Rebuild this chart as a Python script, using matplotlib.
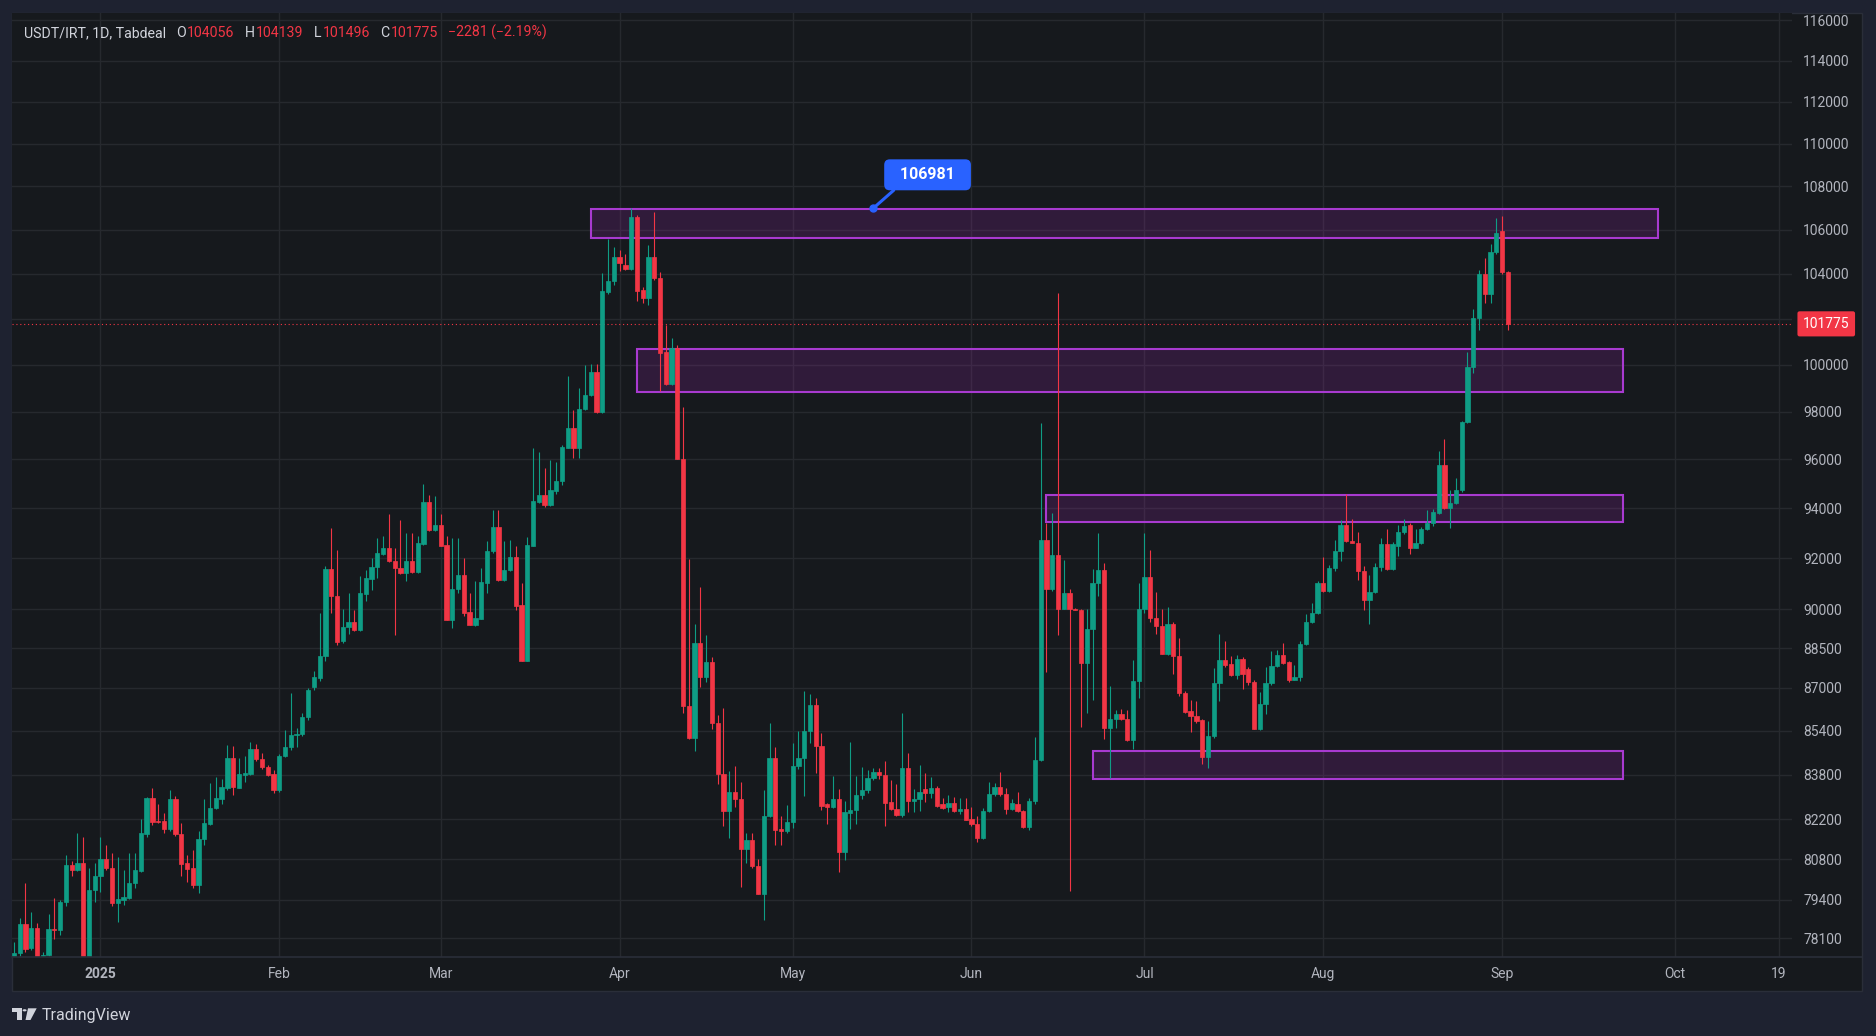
import numpy as np
import pandas as pd
import matplotlib
matplotlib.use('Agg')
import matplotlib.pyplot as plt
import matplotlib.dates as mdates
from matplotlib.patches import Rectangle, Polygon, Circle
from matplotlib.lines import Line2D
from matplotlib.ticker import NullLocator, NullFormatter
from matplotlib.transforms import blended_transform_factory

plt.rcParams['font.family'] = ['Roboto', 'DejaVu Sans']

# daily candles, first bar 2024-12-17, last bar 2025-09-02
first_day = '2024-12-17'
opens = [
    77480, 77590, 78570, 77750, 78430, 77480, 77530, 78410, 78370, 79330,
    80600, 80420, 80660, 77300, 79740, 80200, 80800, 80500, 79290, 79400,
    79470, 79980, 80400, 81680, 82950, 82150, 82150, 81850, 82920, 81690,
    80660, 80490, 79890, 81500, 82050, 82590, 82940, 83300, 84400, 83330,
    83800, 83810, 84740, 84360, 84060, 83810, 83250, 84490, 84800, 85230,
    85270, 85890, 87040, 87360, 88180, 91580, 90520, 88760, 89300, 89500,
    89200, 90600, 91190, 91630, 92160, 92400, 91900, 91610, 91410, 91900,
    91430, 92570, 94270, 93130, 93330, 92530, 89590, 90800, 91350, 89870,
    89400, 89630, 91020, 92270, 93230, 91120, 91540, 92030, 90140, 87990,
    92500, 94270, 94540, 94110, 94710, 95090, 96490, 97300, 96460, 98100,
    98680, 99680, 98000, 103200, 103660, 104770, 104400, 104200, 106570, 103250,
    102900, 104770, 103790, 100550, 99150, 100720, 96030, 86330, 85130, 88690,
    87400, 87980, 85680, 83810, 82480, 83190, 82940, 81170, 81460, 80560,
    79600, 82320, 84420, 81850, 81800, 82110, 84110, 84420, 85390, 86370,
    84830, 82740, 82640, 82940, 81050, 82420, 82520, 83070, 83240, 83660,
    83910, 83780, 82820, 82560, 82360, 84050, 82850, 82940, 83270, 83150,
    83330, 82750, 82640, 82790, 82500, 82560, 82210, 82020, 81530, 82500,
    83100, 83370, 83100, 82560, 82750, 82500, 81940, 82850, 84340, 92710,
    90800, 92120, 90020, 90640, 90020, 89980, 87930, 89220, 91000, 91530,
    85490, 85820, 86010, 85850, 85050, 87250, 90020, 91240, 89670, 89330,
    88290, 89440, 88200, 86810, 86130, 85940, 85800, 84440, 85200, 87160,
    88050, 87900, 87480, 88080, 87720, 87200, 85480, 86390, 87160, 87800,
    88250, 87960, 87300, 87400, 88650, 89490, 89840, 91010, 90710, 91600,
    92290, 93340, 92690, 92610, 91500, 90360, 90650, 91640, 92550, 91560,
    92480, 93030, 93340, 92400, 92590, 93180, 93400, 93810, 95760, 93990,
    94220, 94730, 97570, 99880, 102050, 103990, 103080, 104960, 105950, 104056,
]
highs = [
    77980, 78780, 79970, 78990, 78600, 77640, 78910, 79450, 79400, 80950,
    80740, 81710, 81560, 80510, 80660, 81580, 81300, 81000, 80890, 80440,
    81000, 81000, 82210, 83000, 83310, 82740, 82420, 83230, 83020, 82070,
    80950, 81120, 81790, 82920, 83500, 83700, 83650, 84890, 84830, 84420,
    84460, 85000, 84900, 84580, 84160, 83950, 84530, 85440, 86790, 85500,
    86050, 87000, 87630, 89840, 91670, 93200, 92330, 90010, 90630, 89980,
    91280, 91540, 92000, 92800, 92870, 93770, 92400, 93530, 93000, 93000,
    92870, 94980, 94540, 94500, 93760, 92870, 92800, 92800, 92000, 90630,
    91080, 91600, 92670, 93930, 93930, 92690, 92730, 92470, 91020, 92830,
    96460, 96320, 95630, 95970, 95900, 96600, 99510, 98070, 98990, 99970,
    100010, 100010, 104040, 105550, 105190, 105090, 104900, 106981, 106680, 103400,
    105300, 106790, 104080, 101720, 101170, 100870, 98190, 91970, 89410, 90870,
    88990, 88160, 86000, 86250, 83940, 84110, 83530, 81710, 81710, 80800,
    83240, 85680, 84800, 82320, 82700, 84960, 85390, 86880, 86780, 86600,
    85300, 82770, 83740, 83270, 82860, 84990, 83740, 84080, 83980, 84030,
    84030, 84280, 83610, 83470, 86050, 84590, 83270, 84130, 83850, 83730,
    83380, 82970, 83050, 83000, 82970, 82970, 82640, 82310, 82600, 83540,
    83510, 83910, 83320, 82940, 83190, 82530, 82970, 85160, 97530, 93400,
    93820, 103140, 91910, 90770, 90050, 90000, 90020, 91570, 93000, 91800,
    87080, 86160, 86210, 86180, 88040, 91000, 93000, 92330, 90670, 90020,
    90070, 89500, 88900, 86880, 86550, 86490, 85830, 85760, 87730, 89050,
    88760, 88200, 88220, 88150, 87780, 87300, 86840, 87780, 88400, 88440,
    88680, 88000, 87870, 88760, 89800, 90240, 91100, 92050, 91720, 92700,
    93520, 94580, 93580, 93030, 91700, 91340, 91790, 92780, 93150, 92630,
    93340, 93550, 93400, 93150, 93240, 93920, 93970, 96340, 96860, 94760,
    95220, 97600, 100530, 102410, 104160, 104720, 105350, 106520, 106610, 104139,
]
lows = [
    77450, 77480, 77640, 77700, 77380, 77450, 77480, 78070, 78200, 79200,
    80200, 80380, 77200, 77200, 79330, 79680, 80430, 79200, 78650, 79220,
    79420, 79800, 80340, 81560, 82000, 82080, 81700, 81800, 81600, 80210,
    80000, 79800, 79630, 81280, 82010, 82550, 82740, 83250, 83060, 83300,
    83550, 83800, 84300, 84000, 83750, 83130, 83190, 84430, 84700, 84800,
    85200, 85800, 86920, 87250, 87990, 89850, 88600, 88690, 89040, 89170,
    89170, 90300, 90760, 91220, 92130, 91840, 89010, 91370, 91080, 91400,
    91400, 92530, 93090, 93090, 92470, 89590, 89270, 90630, 89720, 89380,
    89330, 89600, 90630, 92200, 91100, 91080, 91500, 89970, 87990, 87990,
    92470, 94200, 94030, 94070, 94570, 94950, 96460, 96040, 96040, 98070,
    98640, 97950, 97950, 103100, 103500, 104140, 104150, 104150, 102800, 102700,
    102600, 103700, 98870, 99110, 99110, 96000, 86070, 85100, 84660, 87020,
    87200, 85470, 83470, 81980, 81540, 82640, 79840, 80660, 80480, 79600,
    78720, 82280, 81290, 81290, 81700, 81900, 84020, 83020, 84960, 83860,
    82530, 82030, 82600, 80370, 80770, 81860, 82030, 82940, 83140, 83600,
    83650, 81970, 82530, 82320, 82300, 82450, 82450, 82490, 82820, 82970,
    82650, 82560, 82450, 82450, 82380, 82170, 81980, 81410, 81500, 82450,
    83020, 83020, 82380, 82530, 82450, 81900, 81830, 82750, 84300, 87600,
    90700, 88980, 89990, 79700, 89950, 85530, 86050, 86540, 90510, 85100,
    83670, 85490, 85780, 85020, 84740, 86610, 89830, 89510, 89050, 88260,
    88220, 87500, 86680, 86040, 85340, 85690, 84170, 84030, 85140, 86520,
    87790, 87430, 87330, 86960, 87090, 85480, 85440, 86030, 87090, 87770,
    87900, 87230, 87300, 87250, 88600, 89450, 89800, 90680, 90680, 91500,
    91900, 92650, 92580, 91130, 89980, 89440, 90610, 91490, 91530, 91530,
    92070, 92960, 92150, 92400, 92550, 93140, 93290, 93780, 93960, 93210,
    94180, 94650, 97530, 99650, 101500, 102680, 102710, 104900, 103990, 101496,
]
closes = [
    77590, 78570, 77730, 78430, 77460, 77540, 78400, 78370, 79330, 80600,
    80430, 80660, 77300, 79740, 80200, 80800, 80490, 79290, 79410, 79500,
    79980, 80420, 81700, 82950, 82120, 82110, 81850, 82920, 81670, 80640,
    80470, 79890, 81520, 82060, 82600, 82950, 83350, 84400, 83350, 83810,
    83850, 84740, 84360, 84060, 83790, 83250, 84490, 84800, 85240, 85280,
    85890, 86920, 87420, 88180, 91580, 90500, 88730, 89310, 89500, 89200,
    90630, 91220, 91660, 92200, 92400, 91870, 91610, 91410, 91900, 91430,
    92600, 94270, 93130, 93330, 92500, 89590, 90800, 91350, 89850, 89400,
    89650, 91040, 92290, 93230, 91120, 91540, 92030, 90100, 87990, 92530,
    94300, 94540, 94110, 94750, 95120, 96530, 97300, 96460, 98110, 98700,
    99680, 98000, 103210, 103660, 104770, 104460, 104200, 106570, 103210, 102900,
    104770, 103790, 100510, 99150, 100720, 96030, 86330, 85130, 88690, 87400,
    87980, 85680, 83810, 82480, 83190, 82910, 81170, 81460, 80560, 79600,
    82320, 84420, 81820, 81800, 82110, 84110, 84420, 85390, 86370, 84830,
    82690, 82640, 82940, 81050, 82450, 82520, 83070, 83240, 83660, 83910,
    83780, 82790, 82560, 82360, 84050, 82850, 82940, 83190, 83150, 83330,
    82680, 82600, 82790, 82500, 82560, 82170, 82020, 81530, 82500, 83100,
    83370, 83100, 82560, 82790, 82500, 81940, 82850, 84340, 92710, 90800,
    92120, 90020, 90640, 90020, 89980, 87930, 89220, 91000, 91530, 85490,
    85820, 86010, 85820, 85050, 87250, 90020, 91240, 89670, 89330, 88290,
    89440, 88200, 86810, 86110, 85940, 85760, 84440, 85200, 87160, 88050,
    87860, 87480, 88080, 87530, 87200, 85480, 86390, 87160, 87800, 88250,
    87940, 87300, 87400, 88650, 89490, 89840, 91010, 90710, 91600, 92290,
    93340, 92690, 92610, 91490, 90360, 90650, 91640, 92550, 91560, 92550,
    93030, 93290, 92400, 92590, 93180, 93400, 93840, 95760, 93990, 94220,
    94730, 97570, 99880, 102050, 103990, 103080, 104960, 105830, 104056, 101775,
]

# purple zones drawn on the chart
zone_start = ['2025-03-27', '2025-04-04', '2025-06-14', '2025-06-22']
zone_end = ['2025-09-28', '2025-09-22', '2025-09-22', '2025-09-22']
zone_low = [105615, 98813, 93460, 83645]
zone_high = [106944, 100665, 94525, 84645]

label_date = '2025-05-15'
label_price = 106981
last_price = 101775

y_ticks = [78100, 79400, 80800, 82200, 83800, 85400, 87000, 88500, 90000, 92000,
           94000, 96000, 98000, 100000, 102000, 104000, 106000, 108000, 110000,
           112000, 114000, 116000]
x_tick_dates = ['2025-01-01', '2025-02-01', '2025-03-01', '2025-04-01', '2025-05-01',
                '2025-06-01', '2025-07-01', '2025-08-01', '2025-09-01', '2025-10-01',
                '2025-10-19']
x_tick_labels = ['2025', 'Feb', 'Mar', 'Apr', 'May', 'Jun', 'Jul', 'Aug', 'Sep', 'Oct', '19']

header_parts = ['O', '104056', 'H', '104139', 'L', '101496', 'C', '101775', '−2281 (−2.19%)']

# colours
OUTER = '#1e2230'
BG = '#16191d'
GRID = '#26292e'
AXTXT = '#b2b5be'
TXT = '#d1d4dc'
GREEN = '#0f9d85'
RED = '#f23645'
PURPLE = '#9c27b0'
PURPLE_EDGE = '#a83ad0'
BLUE = '#2962ff'

W, H = 1876, 1036
fig = plt.figure(figsize=(W / 100, H / 100), dpi=100, facecolor=OUTER)


def fx(px):
    return px / W


def fy(py):
    return 1 - py / H


# chart panel (behind the axes)
fig.patches.append(Rectangle((fx(12), fy(991)), fx(1862) - fx(12), fy(13) - fy(991),
                             transform=fig.transFigure, facecolor=BG,
                             edgecolor='#2a2e39', lw=1, zorder=-5))

ax = fig.add_axes([fx(12), fy(957), fx(1792) - fx(12), fy(13) - fy(957)])
ax.set_facecolor(BG)
for sp in ax.spines.values():
    sp.set_visible(False)
fig.add_artist(Line2D([fx(12), fx(1862)], [fy(957), fy(957)], color='#2a2e39', lw=1.2, zorder=5))

x = mdates.date2num(pd.date_range(first_day, periods=len(opens), freq='D'))
o = np.array(opens, dtype=float)
h = np.array(highs, dtype=float)
l = np.array(lows, dtype=float)
c = np.array(closes, dtype=float)
cols = np.where(c >= o, GREEN, RED)

ax.set_yscale('log')
ax.vlines(x, l, h, colors=cols, lw=0.8, zorder=3)
ax.bar(x, np.abs(c - o), bottom=np.minimum(o, c), width=0.74, color=cols,
       edgecolor=cols, linewidth=0.5, zorder=4)

# zones
for s, e, lo, hi in zip(zone_start, zone_end, zone_low, zone_high):
    x0 = mdates.date2num(pd.Timestamp(s))
    x1 = mdates.date2num(pd.Timestamp(e))
    ax.add_patch(Rectangle((x0, lo), x1 - x0, hi - lo, facecolor=PURPLE, alpha=0.2,
                           edgecolor='none', zorder=2))
    ax.add_patch(Rectangle((x0, lo), x1 - x0, hi - lo, facecolor='none',
                           edgecolor=PURPLE_EDGE, lw=1.5, zorder=2.5))

# last price line + tag
ax.axhline(last_price, color=RED, lw=0.8, ls=(0, (1, 2.5)), zorder=2)
tr = blended_transform_factory(ax.transAxes, ax.transData)
ax.text(1 + 11 / 1780, last_price, f'{last_price}', transform=tr, ha='left', va='center',
        color='white', fontsize=10, clip_on=False, zorder=10,
        bbox=dict(boxstyle='round,pad=0.4,rounding_size=0.15', fc=RED, ec='none'))

# price label callout
lx = mdates.date2num(pd.Timestamp(label_date))
ax.annotate(f'  {label_price}  ', xy=(lx, label_price), xytext=(39, 24),
            textcoords='offset points', ha='center', va='center', color='white',
            fontsize=11.5, fontweight='bold', zorder=11, annotation_clip=False,
            bbox=dict(boxstyle='round,pad=0.5,rounding_size=0.35', fc=BLUE, ec='none'),
            arrowprops=dict(arrowstyle='-', color=BLUE, lw=2.2, shrinkA=0, shrinkB=0,
                            relpos=(0.15, 0.0)))
ax.plot([lx], [label_price], 'o', ms=5, color=BLUE, zorder=11)

# axes limits / ticks
jan1 = mdates.date2num(pd.Timestamp('2025-01-01'))
ax.set_xlim(jan1 - 15.34, jan1 + 293.26)
ax.set_ylim(77463, 116371)

ax.yaxis.tick_right()
ax.set_yticks(y_ticks)
ax.set_yticklabels(['' if v == 102000 else str(v) for v in y_ticks])
ax.yaxis.set_minor_locator(NullLocator())
ax.yaxis.set_minor_formatter(NullFormatter())
ax.set_xticks([mdates.date2num(pd.Timestamp(d)) for d in x_tick_dates])
ax.set_xticklabels(x_tick_labels)
ax.get_xticklabels()[0].set_fontweight('bold')
ax.tick_params(axis='y', length=0, pad=8, labelsize=10, labelcolor=AXTXT)
ax.tick_params(axis='x', length=0, pad=7, labelsize=10, labelcolor=AXTXT)
ax.grid(True, color=GRID, lw=1, zorder=0)
ax.set_axisbelow(True)

# header
prev = fig.text(fx(24), fy(33), 'USDT/IRT, 1D, Tabdeal', color=TXT, fontsize=10.2,
                va='center', ha='left')
for i, s in enumerate(header_parts):
    is_letter = s in ('O', 'H', 'L', 'C')
    gap = 7.5 if (is_letter or i == len(header_parts) - 1) else 0.7
    prev = ax.annotate(s, xy=(1, 0), xycoords=prev, xytext=(gap, 0),
                       textcoords='offset points', color=TXT if is_letter else RED,
                       fontsize=10.2, va='bottom', ha='left', annotation_clip=False)

# TradingView logo
LOGO = '#d1d4dc'
fig.patches.append(Polygon([(fx(12.3), fy(1008.3)), (fx(21.5), fy(1008.3)), (fx(21.5), fy(1020)),
                            (fx(16.8), fy(1020)), (fx(16.8), fy(1012.3)), (fx(12.3), fy(1012.3))],
                           closed=True, transform=fig.transFigure, facecolor=LOGO, edgecolor='none'))
fig.patches.append(Circle((fx(24.6), fy(1010.3)), 2.0 / W, transform=fig.transFigure,
                          facecolor=LOGO, edgecolor='none'))
fig.patches.append(Polygon([(fx(28), fy(1008.3)), (fx(36.7), fy(1008.3)), (fx(30.5), fy(1020)),
                            (fx(25.5), fy(1020))],
                           closed=True, transform=fig.transFigure, facecolor=LOGO, edgecolor='none'))
fig.text(fx(41.5), fy(1015.5), 'TradingView', color=LOGO, fontsize=11.5, va='center', ha='left')

fig.savefig('out.png', dpi=100, facecolor=OUTER)
